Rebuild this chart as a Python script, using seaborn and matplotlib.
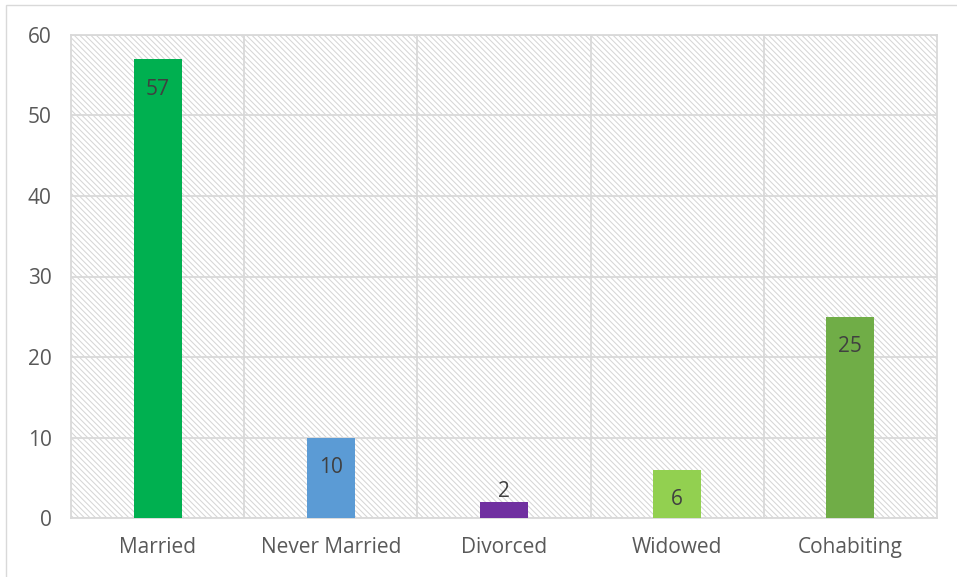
import matplotlib
matplotlib.use("Agg")
import matplotlib.pyplot as plt
from matplotlib.patches import Rectangle
from matplotlib.ticker import MultipleLocator, FixedLocator
import seaborn as sns
import pandas as pd

categories = ["Married", "Never Married", "Divorced", "Widowed", "Cohabiting"]
values = [57, 10, 2, 6, 25]
bar_colors = ["#00B050", "#5B9BD5", "#7030A0", "#92D050", "#70AD47"]

sns.set_theme(style="white")
plt.rcParams["font.family"] = ["Open Sans", "DejaVu Sans"]
plt.rcParams["hatch.linewidth"] = 0.75
plt.rcParams["hatch.color"] = "#d6d6d6"

df = pd.DataFrame({"status": categories, "count": values})

fig = plt.figure(figsize=(9.57, 5.77), dpi=100)
ax = fig.add_axes([71 / 957, 1 - 518 / 577, 866 / 957, 483 / 577])

# outer chart frame
fig.patches.append(Rectangle((6 / 957, -0.05), 1.2, (1 - 5 / 577) + 0.05,
                             transform=fig.transFigure, fill=False,
                             edgecolor="#d9d9d9", linewidth=1.0))

# hatched plot-area background
ax.add_patch(Rectangle((0, 0), 1, 1, transform=ax.transAxes, facecolor="white",
                       edgecolor="#d6d6d6", hatch="\\" * 6, linewidth=0, zorder=0))

sns.barplot(data=df, x="status", y="count", hue="status", palette=bar_colors,
            legend=False, width=0.277, saturation=1, linewidth=0, ax=ax, zorder=3)

ax.set_xlim(-0.5, len(categories) - 0.5)
ax.set_ylim(0, 60)
ax.yaxis.set_major_locator(MultipleLocator(10))
ax.xaxis.set_minor_locator(FixedLocator([i + 0.5 for i in range(len(categories) - 1)]))

ax.set_axisbelow(True)
ax.grid(axis="y", which="major", color="#d9d9d9", linewidth=1.3, zorder=1)
ax.grid(axis="x", which="minor", color="#d9d9d9", linewidth=1.3, zorder=1)
ax.grid(axis="x", which="major", visible=False)

for spine in ax.spines.values():
    spine.set_color("#d9d9d9")
    spine.set_linewidth(1.3)

ax.set_xlabel("")
ax.set_ylabel("")
ax.tick_params(axis="both", which="both", length=0, labelsize=15, labelcolor="#595959")
ax.tick_params(axis="x", pad=14)
ax.tick_params(axis="y", pad=14)

# data labels: inside the top of the bar, above it when the bar is too short
bars = [p for p in ax.patches if p.get_width() < 1 and p.get_height() > 0]
for patch, v in zip(bars, values):
    x = patch.get_x() + patch.get_width() / 2
    dy = -30 if v * 483 / 60 > 40 else 10
    ax.annotate(f"{v}", xy=(x, v), xytext=(0, dy), textcoords="offset pixels",
                ha="center", va="center", fontsize=15, color="#404040", zorder=5)

fig.savefig("out.png", dpi=100)
